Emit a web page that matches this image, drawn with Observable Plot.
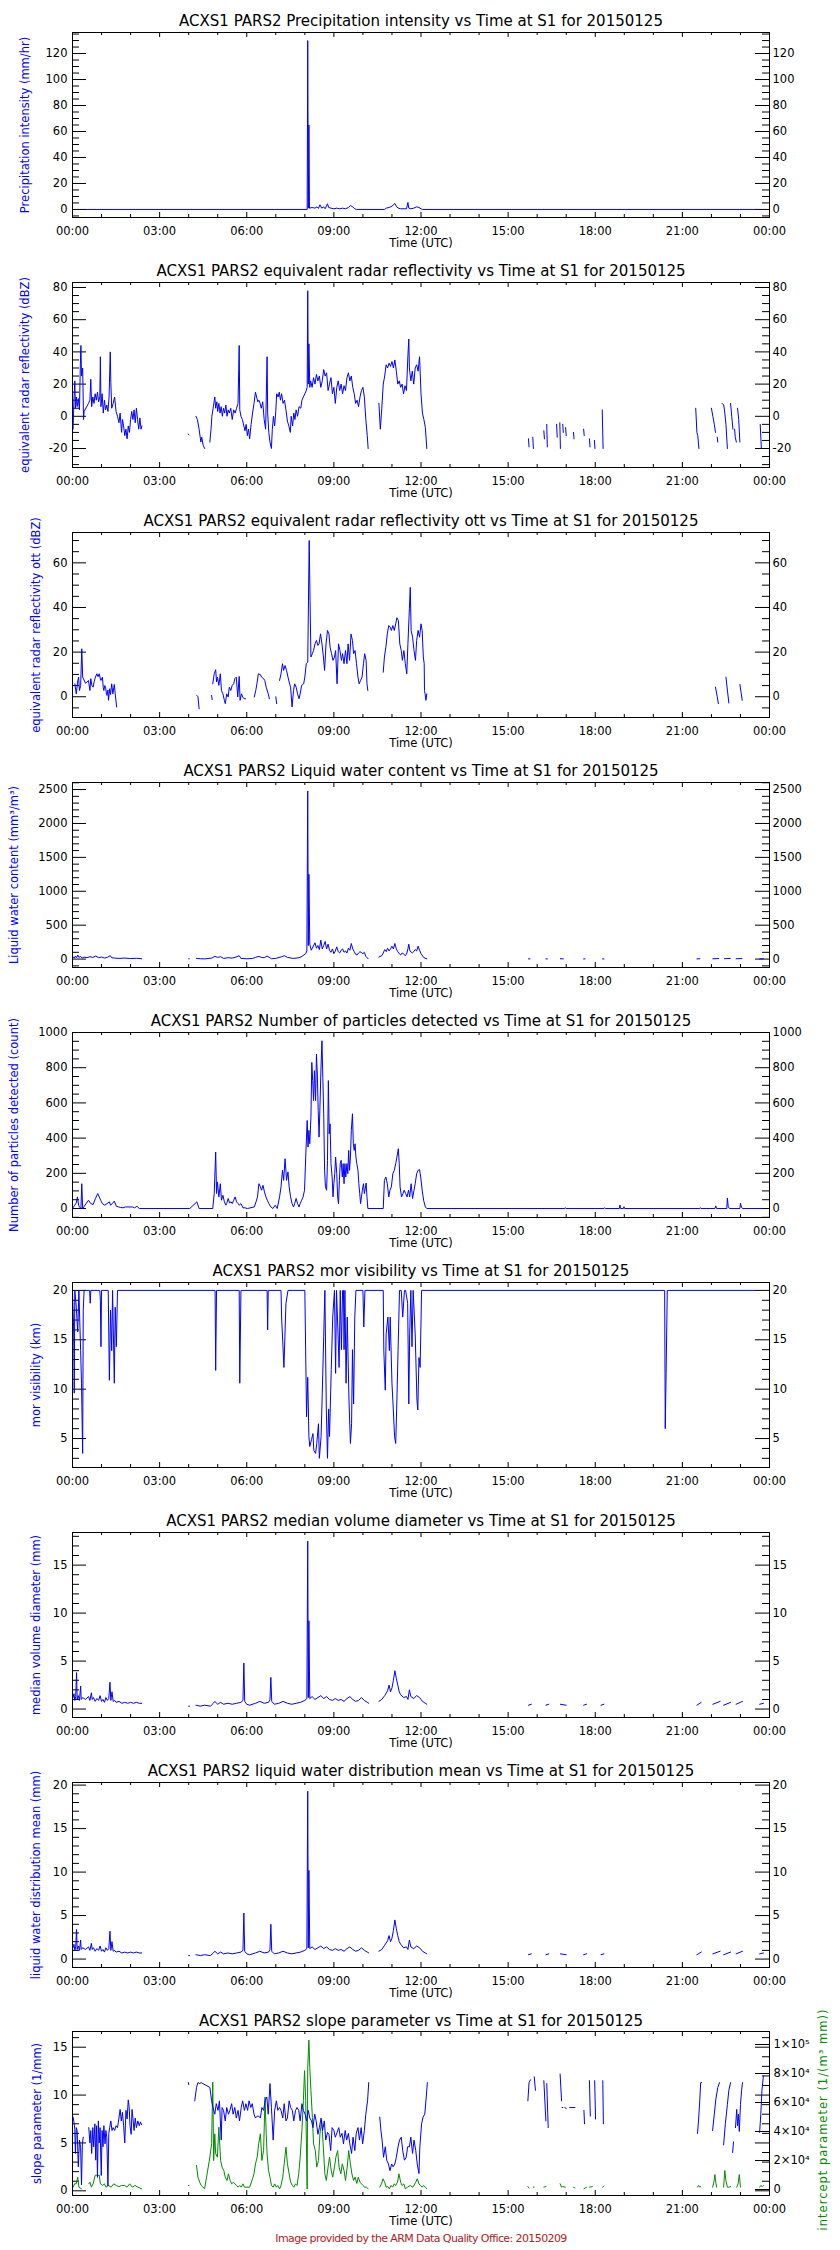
<!DOCTYPE html>
<html><head><meta charset="utf-8">
<script src="https://cdn.jsdelivr.net/npm/d3@7"></script>
<script src="https://cdn.jsdelivr.net/npm/@observablehq/plot@0.6"></script>
<style>
html,body{margin:0;padding:0;background:#fff;}
#charts{width:840px;}
#charts svg{display:block;}
</style></head><body><div id="charts"></div>
<script>
// ---------- tick labels ----------
const hourMajor = [0, 3, 6, 9, 12, 15, 18, 21, 24];
const hourMinor = [1, 2, 4, 5, 7, 8, 10, 11, 13, 14, 16, 17, 19, 20, 22, 23];
const footer = "Image provided by the ARM Data Quality Office: 20150209";
const titles = [
  "ACXS1 PARS2 Precipitation intensity vs Time at S1 for 20150125",
  "ACXS1 PARS2 equivalent radar reflectivity vs Time at S1 for 20150125",
  "ACXS1 PARS2 equivalent radar reflectivity ott vs Time at S1 for 20150125",
  "ACXS1 PARS2 Liquid water content vs Time at S1 for 20150125",
  "ACXS1 PARS2 Number of particles detected vs Time at S1 for 20150125",
  "ACXS1 PARS2 mor visibility vs Time at S1 for 20150125",
  "ACXS1 PARS2 median volume diameter vs Time at S1 for 20150125",
  "ACXS1 PARS2 liquid water distribution mean vs Time at S1 for 20150125",
  "ACXS1 PARS2 slope parameter vs Time at S1 for 20150125"
];
const ylabels = [
  "Precipitation intensity (mm/hr)",
  "equivalent radar reflectivity (dBZ)",
  "equivalent radar reflectivity ott (dBZ)",
  "Liquid water content (mm³/m³)",
  "Number of particles detected (count)",
  "mor visibility (km)",
  "median volume diameter (mm)",
  "liquid water distribution mean (mm)",
  "slope parameter (1/mm)"
];
const rightLabel9 = "intercept parameter (1/(m³ mm))";
const yMajor = [
  [0, 20, 40, 60, 80, 100, 120],
  [-20, 0, 20, 40, 60, 80],
  [0, 20, 40, 60],
  [0, 500, 1000, 1500, 2000, 2500],
  [0, 200, 400, 600, 800, 1000],
  [5, 10, 15, 20],
  [0, 5, 10, 15],
  [0, 5, 10, 15, 20],
  [0, 5, 10, 15]
];
const yDomains = [
  [-6.2, 136.2], [-31.8, 83.1], [-9.3, 73.6], [-124, 2604], [-51, 1000],
  [2.07, 20.8], [-0.88, 18.4], [-0.97, 20.3], [-0.49, 16.64]
];
const yMinorStep = [5, 5, 5, 100, 50, 1, 1, 1, 1];
const interceptDomain = [-4140, 108970];
const interceptMajor = [0, 20000, 40000, 60000, 80000, 100000];
const interceptLabels = ["0", "2×10⁴", "4×10⁴", "6×10⁴", "8×10⁴", "1×10⁵"];

// ---------- data: [hour, value], null = gap ----------
const precip = [[0.48,0],[8.08,0],[8.1,130],[8.12,1],[8.14,65],[8.16,1],[8.25,1.5],[8.35,1],[8.42,2],[8.47,0.8],[8.52,3.6],[8.58,1],[8.65,2],[8.7,0.5],[8.78,4.4],[8.82,1.5],[8.9,1],[9.0,0.5],[9.1,1],[9.2,0.5],[9.3,1],[9.4,0.5],[9.5,1.5],[9.57,3],[9.65,2],[9.72,0.5],[9.78,0],[10.75,0],[10.8,1],[10.9,1.5],[11.0,2.5],[11.1,4.6],[11.16,2],[11.22,1],[11.3,0.5],[11.5,0.5],[11.55,5.4],[11.58,1],[11.65,0.5],[11.75,1],[11.85,2],[11.93,1.5],[12.0,0.5],[12.05,0],[23.58,0]];

const dbz = [[0.02,-8],[0.05,10],[0.08,22],[0.1,5],[0.13,12],[0.16,6],[0.2,11],[0.24,4],[0.27,32],[0.29,44],[0.31,25],[0.35,30],[0.38,-2],[0.4,3],[0.55,8],[0.6,10],[0.63,23],[0.66,6],[0.7,12],[0.74,8],[0.78,14],[0.82,10],[0.86,15],[0.9,9],[0.94,12],[0.96,37],[0.98,6],[1.02,14],[1.06,2],[1.1,10],[1.14,4],[1.18,7],[1.22,3],[1.26,12],[1.3,40],[1.32,21],[1.35,5],[1.4,8],[1.45,12],[1.5,3],[1.55,0],[1.6,-4],[1.64,2],[1.69,-10],[1.72,-2],[1.76,-6],[1.8,-12],[1.84,-8],[1.88,-14],[1.92,-6],[1.96,-10],[2.0,-2],[2.04,3],[2.08,-2],[2.12,4],[2.16,-4],[2.2,5],[2.24,-2],[2.28,-8],[2.32,-1],[2.36,-8],[2.39,-6],null,
[3.98,-11],[4.01,-11.5],null,
[4.25,0],[4.3,-2],[4.36,-8],[4.42,-16],[4.45,-13],[4.5,-18],[4.55,-20],null,
[4.73,-16],[4.77,-8],[4.8,0],[4.85,6],[4.9,12],[4.93,5],[4.97,9],[5.0,3],[5.04,8],[5.08,2],[5.12,6],[5.16,0],[5.2,5],[5.24,2],[5.28,7],[5.32,0],[5.36,4],[5.4,2],[5.45,5],[5.5,-2],[5.55,4],[5.6,2],[5.65,5],[5.7,8],[5.74,44],[5.76,4],[5.8,0],[5.85,-2],[5.9,-6],[5.94,-9],[5.98,-5],[6.02,-12],[6.06,-8],[6.1,-14],[6.15,-5],[6.2,2],[6.25,8],[6.3,15],[6.34,12],[6.38,9],[6.42,10],[6.46,8],[6.5,5],[6.55,9],[6.6,-2],[6.65,-8],[6.7,37],[6.72,2],[6.76,-10],[6.8,-16],[6.85,-20],[6.88,-8],[6.92,0],[6.96,-6],[7.0,3],[7.03,14],[7.08,12],[7.12,15],[7.16,10],[7.2,14],[7.25,8],[7.3,10],[7.35,4],[7.4,-3],[7.45,-6],[7.5,-10],[7.53,0],[7.58,-6],[7.62,2],[7.66,-2],[7.7,4],[7.75,0],[7.8,6],[7.86,5],[7.9,10],[7.95,12],[8.0,14],[8.05,16],[8.08,18],[8.1,78],[8.12,20],[8.14,45],[8.17,18],[8.2,22],[8.25,18],[8.3,24],[8.35,20],[8.4,26],[8.45,22],[8.5,25],[8.55,18],[8.6,22],[8.65,29],[8.7,25],[8.75,27],[8.8,16],[8.85,20],[8.9,24],[8.95,14],[9.0,18],[9.05,8],[9.1,18],[9.15,22],[9.2,16],[9.25,20],[9.3,14],[9.35,19],[9.4,16],[9.45,24],[9.5,27],[9.55,22],[9.6,25],[9.65,18],[9.7,14],[9.75,8],[9.8,10],[9.85,6],[9.9,12],[9.95,16],[10.0,18],[10.05,12],[10.1,-2],[10.15,-12],[10.18,-20],null,
[10.55,8],[10.6,-8],[10.65,5],[10.7,20],[10.75,25],[10.8,32],[10.85,30],[10.9,33],[10.95,31],[11.0,34],[11.05,30],[11.1,35],[11.15,28],[11.2,20],[11.25,22],[11.3,18],[11.35,20],[11.4,14],[11.45,19],[11.5,16],[11.55,38],[11.58,48],[11.6,30],[11.65,22],[11.7,28],[11.75,20],[11.8,30],[11.85,32],[11.9,28],[11.95,37],[12.0,14],[12.05,2],[12.1,-2],[12.15,-7],[12.2,-20],null,
[15.7,-14],[15.72,-19],null,[15.85,-13],[15.87,-20],null,[16.23,-9],[16.25,-14],null,[16.33,-5],[16.35,-19],null,[16.67,-5],[16.69,-13],null,[16.78,-4],[16.8,-20],null,[16.88,-5],[16.9,-10],null,[16.98,-7],[17.0,-12],null,[17.25,-10],[17.27,-14],null,[17.6,-8],[17.62,-12],null,[17.8,-14],[17.82,-19],null,[17.97,-15],[17.99,-20],null,[18.24,4],[18.27,-20],null,
[21.46,5],[21.5,-10],[21.53,-12],[21.57,-20],null,[22.0,5],[22.05,0],[22.1,-5],[22.14,-10],null,[22.2,-13],[22.22,-16],null,[22.37,8],[22.42,7],[22.45,4],[22.5,-5],[22.55,-20],null,[22.66,8],[22.7,0],[22.74,-8],null,[22.8,-8],[22.82,-13],[22.86,-16],null,[22.9,5],[22.94,-2],[22.98,-16],null,[23.68,-5],[23.72,-20]];

const dbzOtt = [[0.08,5.8],[0.13,1.3],[0.18,7],[0.21,8.8],[0.24,2.8],[0.28,5],[0.32,21.5],[0.35,8.8],[0.45,6],[0.55,7.3],[0.6,2.8],[0.63,8.1],[0.67,5],[0.71,4.3],[0.75,7],[0.79,8.8],[0.84,10.3],[0.88,9],[0.92,10.3],[0.96,8],[0.98,7.3],[1.03,8.8],[1.06,4],[1.08,2.8],[1.11,5],[1.14,4.3],[1.17,1],[1.19,0.6],[1.22,3],[1.24,-1.6],[1.28,3.6],[1.31,1],[1.35,5.8],[1.39,1.3],[1.42,4],[1.44,5.5],[1.47,1.3],[1.52,-4.6],null,
[4.28,0.6],[4.32,0],[4.36,-5.4],null,[4.79,0.6],[4.81,-1.3],null,
[4.83,5.8],[4.88,10.3],[4.93,12.1],[4.96,6.6],[4.99,8.8],[5.04,5.1],[5.09,10.3],[5.13,2.8],[5.18,1.3],[5.23,-1.6],[5.26,-3.1],[5.31,1.3],[5.36,-0.1],[5.4,4.3],[5.45,2.8],[5.5,5.1],[5.55,5.8],[5.59,8.1],[5.64,8.8],[5.69,-0.1],[5.74,9.1],[5.77,-1.6],[5.82,1.3],[5.86,-0.1],[5.91,-0.9],[5.96,-0.9],null,
[6.26,-0.1],[6.31,2.8],[6.35,5.8],[6.4,10.3],[6.47,9.9],[6.51,8.8],[6.58,8.1],[6.62,7.3],[6.67,4.3],[6.74,1.3],[6.78,-0.9],null,
[7.0,0],[7.03,-3.1],null,
[7.13,7.3],[7.18,10.3],[7.23,14.8],[7.27,11.8],[7.32,14],[7.37,11.8],[7.42,8.8],[7.46,6.6],[7.51,4.3],[7.56,-4.6],[7.61,2.8],[7.65,5.8],[7.7,4.3],[7.75,1.3],[7.8,-0.9],[7.84,1.3],[7.89,5.1],[7.96,5.8],[8.0,8.8],[8.05,14.8],[8.1,15.5],[8.15,70],[8.18,43],[8.21,17.8],[8.26,19.3],[8.3,20.7],[8.35,23.7],[8.4,25.2],[8.45,23],[8.49,23.7],[8.54,28.2],[8.59,23.7],[8.64,17.8],[8.68,11.8],[8.73,23.7],[8.78,29.7],[8.83,28.2],[8.87,22.2],[8.92,19.3],[8.97,16.3],[9.02,17.8],[9.06,20.7],[9.11,5.8],[9.16,23.7],[9.21,20.7],[9.26,16.3],[9.3,19.3],[9.35,14.8],[9.4,20.7],[9.45,14.8],[9.49,23.7],[9.54,16.3],[9.59,28.1],[9.64,25.2],[9.68,19.3],[9.73,20.7],[9.78,14.8],[9.83,8.8],[9.87,5.8],[9.92,7.3],[9.97,8.8],[10.02,14.8],[10.06,19.3],[10.11,16.3],[10.14,5.8],[10.17,2.8],null,
[10.7,11],[10.74,17.8],[10.79,22.2],[10.84,28.2],[10.89,31.9],[10.94,31.2],[10.98,29.7],[11.03,31.9],[11.08,29.7],[11.13,32.7],[11.17,35.4],[11.22,34.2],[11.27,23.7],[11.32,20.7],[11.36,16.3],[11.41,20.7],[11.46,14.8],[11.51,10.3],[11.55,23.7],[11.6,39.4],[11.63,49],[11.66,29.7],[11.71,26.7],[11.76,20.7],[11.81,16.3],[11.85,25.2],[11.9,29.7],[11.95,26.7],[12.0,32.7],[12.04,29.7],[12.08,17.8],[12.11,14.8],[12.12,2.8],[12.14,1.3],[12.17,-1.6],[12.2,1.3],null,
[22.14,4.3],[22.2,0],[22.24,-3.1],null,[22.5,8.8],[22.55,3],[22.6,-2.8],null,[22.98,5.5],[23.02,2],[23.06,-1.6]];

const lwc = [[0.02,30],[0.06,15],[0.1,45],[0.14,20],[0.18,60],[0.22,25],[0.28,40],[0.33,15],[0.4,30],[0.5,20],[0.6,35],[0.7,25],[0.8,45],[0.9,20],[1.0,30],[1.1,15],[1.2,25],[1.3,50],[1.35,20],[1.45,15],[1.6,10],[1.8,15],[2.0,8],[2.2,12],[2.38,5],null,
[4.0,5],[4.02,5],null,
[4.27,10],[4.4,5],[4.55,3],[4.8,15],[4.9,40],[5.0,25],[5.1,35],[5.2,10],[5.35,20],[5.5,15],[5.6,25],[5.74,50],[5.8,10],[6.0,5],[6.2,10],[6.3,25],[6.42,40],[6.5,25],[6.6,20],[6.7,45],[6.85,5],[7.0,10],[7.2,35],[7.3,50],[7.4,25],[7.6,10],[7.8,20],[7.9,40],[8.03,80],[8.07,120],[8.1,2480],[8.12,200],[8.14,1250],[8.17,220],[8.22,130],[8.28,180],[8.35,240],[8.4,160],[8.45,200],[8.5,140],[8.55,280],[8.6,150],[8.65,200],[8.7,260],[8.75,150],[8.8,220],[8.85,130],[8.9,100],[8.95,150],[9.0,80],[9.05,120],[9.1,180],[9.15,110],[9.2,90],[9.25,130],[9.3,150],[9.35,100],[9.4,120],[9.45,90],[9.5,160],[9.55,130],[9.6,230],[9.65,150],[9.7,110],[9.75,70],[9.8,60],[9.85,90],[9.9,110],[10.0,80],[10.05,100],[10.1,40],[10.18,5],null,
[10.55,30],[10.65,50],[10.7,90],[10.75,140],[10.8,110],[10.85,160],[10.9,120],[10.95,150],[11.0,190],[11.05,150],[11.1,230],[11.15,150],[11.2,110],[11.25,80],[11.3,60],[11.35,90],[11.4,80],[11.45,50],[11.5,70],[11.55,150],[11.58,220],[11.62,120],[11.7,90],[11.75,110],[11.8,140],[11.85,120],[11.9,190],[11.95,130],[12.0,80],[12.1,20],[12.2,5],null,
[15.7,2],[15.75,4],null,[16.3,3],[16.35,2],null,[16.8,5],[16.9,3],null,[17.6,2],[17.65,3],null,[18.25,4],[18.3,2],null,
[21.5,3],[21.6,5],null,[22.05,4],[22.25,8],null,[22.45,6],[22.65,10],null,[22.85,5],[23.05,8],null,[23.66,3],[23.79,5]];

const particles = [[0,0],[0.08,19],[0.13,32],[0.17,66],[0.21,19],[0.24,9],[0.29,0],[0.32,141],[0.35,0],[0.55,47],[0.63,28],[0.71,23],[0.79,57],[0.87,85],[0.92,66],[0.97,47],[1.03,28],[1.11,19],[1.19,28],[1.27,38],[1.31,19],[1.37,28],[1.44,42],[1.51,13],[1.59,9],[1.66,6],[1.74,4],[1.82,9],[2.06,9],[2.14,4],[2.22,13],[2.3,0],[4.04,0],[4.28,38],[4.36,0],[4.83,0],[4.88,85],[4.93,321],[4.96,85],[4.99,151],[5.04,66],[5.09,141],[5.13,47],[5.18,75],[5.23,38],[5.28,19],[5.31,28],[5.36,57],[5.41,32],[5.46,38],[5.5,28],[5.55,47],[5.6,66],[5.65,38],[5.7,28],[5.74,19],[5.8,28],[5.87,4],[5.94,4],[6.02,0],[6.26,9],[6.32,38],[6.37,66],[6.42,141],[6.47,123],[6.51,104],[6.56,132],[6.61,94],[6.66,66],[6.71,47],[6.76,28],[6.83,9],[6.9,0],[6.98,19],[7.05,0],[7.13,66],[7.18,123],[7.23,217],[7.27,160],[7.32,283],[7.37,160],[7.42,208],[7.46,123],[7.51,66],[7.56,28],[7.61,9],[7.65,28],[7.7,57],[7.75,28],[7.8,9],[7.84,28],[7.89,47],[7.94,66],[7.99,104],[8.03,292],[8.08,500],[8.11,349],[8.14,444],[8.17,368],[8.21,519],[8.24,830],[8.27,727],[8.3,613],[8.33,783],[8.37,613],[8.4,877],[8.43,764],[8.46,557],[8.49,406],[8.52,575],[8.56,821],[8.59,953],[8.62,745],[8.65,538],[8.68,217],[8.71,123],[8.75,104],[8.78,274],[8.81,727],[8.84,425],[8.87,481],[8.9,255],[8.94,179],[8.97,66],[9.0,141],[9.03,198],[9.06,292],[9.1,198],[9.13,66],[9.16,28],[9.19,160],[9.22,255],[9.25,274],[9.29,179],[9.32,255],[9.35,141],[9.38,255],[9.41,179],[9.45,255],[9.48,198],[9.51,330],[9.54,217],[9.57,292],[9.6,443],[9.64,538],[9.67,368],[9.7,330],[9.73,368],[9.76,292],[9.79,255],[9.83,217],[9.86,141],[9.89,85],[9.92,28],[9.95,66],[9.98,104],[10.02,141],[10.05,85],[10.08,113],[10.11,145],[10.14,66],[10.17,0],[10.7,0],[10.74,160],[10.79,179],[10.84,141],[10.89,66],[10.93,104],[10.98,123],[11.03,198],[11.08,217],[11.13,255],[11.17,292],[11.22,340],[11.25,255],[11.28,123],[11.33,66],[11.38,85],[11.42,104],[11.47,85],[11.52,66],[11.57,104],[11.61,66],[11.66,141],[11.71,57],[11.76,104],[11.8,141],[11.85,198],[11.9,217],[11.95,221],[11.99,179],[12.04,104],[12.09,47],[12.15,9],[12.2,0],[16.95,0],[16.97,5],[16.99,0],[18.3,0],[18.32,5],[18.34,0],[18.83,0],[18.85,20],[18.87,0],[18.97,0],[18.99,10],[19.01,0],[21.6,0],[21.62,5],[21.64,0],[22.12,0],[22.15,15],[22.18,0],[22.53,0],[22.55,60],[22.58,10],[22.62,0],[22.98,0],[23.0,30],[23.04,5],[23.08,0],[23.77,0]];

const visibility = [[0,20],[0.04,16],[0.06,9.6],[0.08,20],[0.13,18.3],[0.18,15.8],[0.22,20],[0.28,13.9],[0.31,10.6],[0.35,3.5],[0.37,18],[0.4,20],[0.59,20],[0.61,18.7],[0.63,20],[0.94,20],[0.96,19],[0.98,14.3],[1.0,20],[1.23,20],[1.27,10.9],[1.31,18],[1.35,13.9],[1.38,20],[1.44,10.6],[1.47,18.3],[1.51,14.3],[1.55,20],[4.91,20],[4.93,11.9],[4.96,20],[5.74,20],[5.76,10.6],[5.8,20],[6.7,20],[6.72,16],[6.74,20],[7.18,20],[7.2,17.3],[7.28,12.2],[7.35,18.7],[7.42,20],[8.0,20],[8.06,7.2],[8.1,11.2],[8.14,5.2],[8.17,4.2],[8.23,4.9],[8.28,5.5],[8.31,3.8],[8.37,3.5],[8.41,4.5],[8.47,6.5],[8.5,3],[8.56,5.2],[8.6,9.6],[8.65,15.3],[8.69,20],[8.74,8],[8.78,3],[8.82,8],[8.85,5.2],[8.91,12],[8.96,17.3],[9.02,20],[9.06,11.6],[9.09,20],[9.15,15],[9.18,12.2],[9.22,20],[9.26,14],[9.3,20],[9.33,20],[9.35,14],[9.38,20],[9.42,10.6],[9.46,17.3],[9.52,8.9],[9.57,4.5],[9.61,6.5],[9.64,14],[9.68,8.5],[9.72,17.3],[9.76,20],[10.0,20],[10.03,16.3],[10.07,20],[10.7,20],[10.72,13.9],[10.77,9.9],[10.8,15.6],[10.86,17.3],[10.91,13.9],[10.94,17.3],[11.0,10.6],[11.03,8.9],[11.09,5.2],[11.13,4.5],[11.17,8.9],[11.21,13.9],[11.26,20],[11.32,20],[11.37,17.3],[11.43,20],[11.47,20],[11.54,18.7],[11.58,8.5],[11.61,15.6],[11.65,20],[11.69,14.3],[11.73,20],[11.8,15.6],[11.86,8.9],[11.89,7.9],[11.93,13.2],[11.97,12.2],[12.02,20],[20.39,20],[20.41,6],[20.44,11.6],[20.48,20],[23.5,20]];

const mvd = [[0.02,1.2],[0.05,1.6],[0.08,0.9],[0.11,1.3],[0.14,3.8],[0.16,1.0],[0.2,1.4],[0.24,0.9],[0.28,2.4],[0.3,1.0],[0.35,1.2],[0.45,1.0],[0.55,1.3],[0.6,0.9],[0.65,1.7],[0.68,1.0],[0.72,1.2],[0.78,0.8],[0.84,1.1],[0.9,0.9],[0.95,1.4],[1.0,0.8],[1.05,1.0],[1.1,0.7],[1.15,1.2],[1.2,0.9],[1.25,1.1],[1.29,2.8],[1.32,0.9],[1.36,1.8],[1.4,0.8],[1.45,0.9],[1.5,0.7],[1.6,0.8],[1.7,0.6],[1.8,0.7],[1.9,0.6],[2.0,0.7],[2.1,0.6],[2.2,0.7],[2.3,0.6],[2.38,0.6],null,
[4.0,0.3],[4.03,0.3],null,
[4.25,0.4],[4.4,0.3],[4.55,0.4],[4.75,0.3],[4.85,0.6],[4.9,0.8],[5.0,0.5],[5.1,0.7],[5.2,0.5],[5.35,0.6],[5.5,0.5],[5.65,0.6],[5.8,0.7],[5.87,0.9],[5.9,4.8],[5.93,0.8],[6.0,0.5],[6.1,0.4],[6.3,0.6],[6.45,0.8],[6.6,0.6],[6.75,0.7],[6.8,1.0],[6.83,3.3],[6.86,0.8],[6.95,0.5],[7.1,0.6],[7.25,0.8],[7.4,0.6],[7.55,0.5],[7.7,0.6],[7.85,0.7],[8.0,0.9],[8.07,1.1],[8.1,17.5],[8.12,1.2],[8.14,9.2],[8.17,1.1],[8.25,1.3],[8.35,1.0],[8.45,1.2],[8.55,1.4],[8.65,1.1],[8.75,1.3],[8.85,1.0],[8.95,0.9],[9.05,1.1],[9.15,0.9],[9.25,1.0],[9.35,0.8],[9.45,1.1],[9.55,1.3],[9.65,1.0],[9.75,0.8],[9.85,0.9],[9.95,1.2],[10.05,0.9],[10.15,0.7],[10.2,0.6],null,
[10.55,0.8],[10.65,1.0],[10.75,1.4],[10.85,1.9],[10.9,2.5],[10.95,1.8],[11.0,2.2],[11.05,3.0],[11.1,4.0],[11.15,3.2],[11.2,2.5],[11.25,1.8],[11.3,1.5],[11.4,1.2],[11.5,1.3],[11.55,1.0],[11.6,2.0],[11.65,1.3],[11.75,1.1],[11.85,1.4],[11.95,1.2],[12.05,0.8],[12.15,0.6],[12.2,0.5],null,
[15.7,0.4],[15.8,0.5],null,[16.3,0.4],[16.4,0.5],null,[16.8,0.5],[17.0,0.4],null,[17.6,0.4],[17.7,0.5],null,[18.2,0.4],[18.3,0.5],null,
[21.5,0.4],[21.65,0.7],null,[22.05,0.5],[22.3,0.8],null,[22.42,0.4],[22.66,0.7],null,[22.85,0.5],[23.07,0.8],null,[23.66,0.5],[23.79,0.6]];

const lwdMean = [[0.02,1.3],[0.05,1.7],[0.08,1.0],[0.11,1.4],[0.14,3.4],[0.16,1.1],[0.2,1.5],[0.24,1.0],[0.28,2.2],[0.3,1.1],[0.35,1.3],[0.45,1.1],[0.55,1.4],[0.6,1.0],[0.65,1.8],[0.68,1.1],[0.72,1.3],[0.78,0.9],[0.84,1.2],[0.9,1.0],[0.95,1.5],[1.0,0.9],[1.05,1.1],[1.1,0.8],[1.15,1.3],[1.2,1.0],[1.25,1.2],[1.29,3.2],[1.32,1.0],[1.36,2.0],[1.4,0.9],[1.45,1.0],[1.5,0.8],[1.6,0.9],[1.7,0.7],[1.8,0.8],[1.9,0.7],[2.0,0.8],[2.1,0.7],[2.2,0.8],[2.3,0.7],[2.38,0.7],null,
[4.0,0.4],[4.03,0.4],null,
[4.25,0.5],[4.4,0.4],[4.55,0.5],[4.75,0.4],[4.85,0.7],[4.9,0.9],[5.0,0.6],[5.1,0.8],[5.2,0.6],[5.35,0.7],[5.5,0.6],[5.65,0.7],[5.8,0.8],[5.87,1.0],[5.9,5.3],[5.93,0.9],[6.0,0.6],[6.1,0.5],[6.3,0.7],[6.45,0.9],[6.6,0.7],[6.75,0.8],[6.8,1.1],[6.83,4.0],[6.86,0.9],[6.95,0.6],[7.1,0.7],[7.25,0.9],[7.4,0.7],[7.55,0.6],[7.7,0.7],[7.85,0.8],[8.0,1.0],[8.07,1.2],[8.1,19.3],[8.12,1.3],[8.14,10.2],[8.17,1.2],[8.25,1.4],[8.35,1.1],[8.45,1.3],[8.55,1.5],[8.65,1.2],[8.75,1.4],[8.85,1.1],[8.95,1.0],[9.05,1.2],[9.15,1.0],[9.25,1.1],[9.35,0.9],[9.45,1.2],[9.55,1.4],[9.65,1.1],[9.75,0.9],[9.85,1.0],[9.95,1.3],[10.05,1.0],[10.15,0.8],[10.2,0.7],null,
[10.55,0.9],[10.65,1.1],[10.75,1.6],[10.85,2.1],[10.9,2.7],[10.95,2.0],[11.0,2.4],[11.05,3.3],[11.1,4.5],[11.15,3.5],[11.2,2.7],[11.25,2.0],[11.3,1.7],[11.4,1.3],[11.5,1.4],[11.55,1.1],[11.6,2.2],[11.65,1.4],[11.75,1.2],[11.85,1.5],[11.95,1.3],[12.05,0.9],[12.15,0.7],[12.2,0.6],null,
[15.7,0.5],[15.8,0.6],null,[16.3,0.5],[16.4,0.6],null,[16.8,0.6],[17.0,0.5],null,[17.6,0.5],[17.7,0.6],null,[18.2,0.5],[18.3,0.6],null,
[21.5,0.5],[21.65,0.8],null,[22.05,0.6],[22.3,0.9],null,[22.42,0.5],[22.66,0.8],null,[22.85,0.6],[23.07,0.9],null,[23.66,0.6],[23.79,0.7]];

const slope = [[0.02,7.7],[0.05,7.2],[0.08,6.4],[0.1,3.9],[0.13,6.6],[0.16,6.3],[0.2,2.5],[0.24,5.3],[0.28,4.5],[0.31,0.6],[0.34,4.9],[0.37,5.6],null,
[0.56,6.6],[0.6,5],[0.63,6.3],[0.66,3.9],[0.7,6.6],[0.73,4.6],[0.77,7],[0.8,3.2],[0.83,6.8],[0.86,1.4],[0.89,7.3],[0.92,5],[0.95,6.6],[0.99,1.6],[1.02,6.3],[1.05,4.6],[1.08,6.8],[1.12,4.9],[1.15,6.3],[1.18,5.6],[1.22,0.5],[1.25,6],[1.28,6.6],[1.32,7.3],[1.36,6.3],[1.4,6.6],[1.45,6.3],[1.5,6.8],[1.55,6.6],[1.6,7.6],[1.64,8.5],[1.68,7.3],[1.72,8.2],[1.76,6.8],[1.8,5],[1.84,8.4],[1.88,7.5],[1.92,9.5],[1.95,8.8],[1.98,6.8],[2.02,5.9],[2.05,8.5],[2.08,7.6],[2.12,6.3],[2.16,7.6],[2.2,6.6],[2.25,7.3],[2.3,6.8],[2.34,7.2],[2.38,6.9],null,
[3.99,11.3],[4.0,11.1],null,
[4.21,9.4],[4.27,10.8],[4.32,11.3],[4.38,11.2],[4.43,11.3],[4.49,11.2],[4.73,10.8],[4.79,9.4],[4.84,8.7],[4.9,8],[4.95,9.1],[5.01,8.4],[5.06,9.4],[5.12,5.3],[5.15,8.7],[5.2,8.4],[5.26,7.3],[5.31,8.7],[5.37,8],[5.42,8.4],[5.48,9.1],[5.53,8],[5.59,8.7],[5.64,7.6],[5.7,8.4],[5.75,7.3],[5.81,8.7],[5.86,9.4],[5.92,8.4],[5.97,9.1],[6.03,8.4],[6.08,9.4],[6.14,8.7],[6.19,9.1],[6.25,8],[6.3,7.6],[6.36,7.8],[6.41,7.8],[6.47,7.6],[6.52,8.7],[6.58,8.4],[6.63,9.4],[6.69,9.8],[6.74,8],[6.8,11.2],[6.85,8.7],[6.91,5.3],[6.96,8.4],[7.02,9.4],[7.07,8.4],[7.13,8.7],[7.18,8.4],[7.24,7.6],[7.29,9.1],[7.35,7.3],[7.4,7.6],[7.46,9.4],[7.51,8.7],[7.57,8.4],[7.62,7.3],[7.68,8.4],[7.73,8.7],[7.79,8.4],[7.84,7.3],[7.9,9.1],[7.95,8.4],[8.01,8],[8.06,7.3],[8.12,8.4],[8.17,7.6],[8.23,7.3],[8.28,6.6],[8.34,8],[8.39,7.3],[8.45,5.9],[8.5,6.6],[8.56,7.6],[8.61,6.3],[8.67,7.3],[8.72,5.3],[8.78,6.1],[8.83,5.9],[8.89,4.2],[8.94,6.6],[9.0,6.3],[9.05,5.6],[9.11,6.1],[9.17,6.6],[9.22,5.6],[9.28,6],[9.33,4.9],[9.39,6.3],[9.44,5.3],[9.5,6],[9.55,4.9],[9.61,3.9],[9.66,5.6],[9.72,4.2],[9.77,6],[9.83,6.6],[9.88,5.3],[9.94,6.6],[9.99,4.9],[10.05,6.3],[10.1,8],[10.16,9.4],[10.2,11.3],null,
[10.58,7.7],[10.62,6.3],[10.66,5.3],[10.71,3.5],[10.77,4.6],[10.82,3.2],[10.88,2.8],[10.93,2.1],[10.99,2.8],[11.04,2.5],[11.1,2.8],[11.15,3.5],[11.21,4.6],[11.26,5.3],[11.32,5.6],[11.37,4.2],[11.43,3.2],[11.49,3.5],[11.54,4.6],[11.6,4.6],[11.65,5.6],[11.71,3.9],[11.76,5.3],[11.82,4.2],[11.87,2.8],[11.93,1.8],[11.96,4.6],[12.02,7],[12.07,7.7],[12.13,8],[12.18,9.8],[12.22,11.3],null,
[15.68,9.4],[15.72,11.3],[15.77,11.6],null,[15.9,11.9],[15.94,10.5],null,[16.23,11.5],[16.3,7.3],null,[16.33,11.2],[16.38,6.6],null,[16.79,12.2],[16.84,9.4],null,[16.86,8.7],[16.88,8.7],null,[16.95,8.7],[17.0,8.6],null,[17.12,8.7],[17.3,8.7],null,[17.61,8.4],[17.63,7],null,[17.8,11.5],[17.83,7.8],null,[17.98,11.5],[18.01,7.5],null,[18.26,11.5],[18.28,7],null,
[21.52,6.0],[21.56,7.5],[21.6,9.5],[21.63,11.3],[21.66,11.3],null,[22.04,6.3],[22.1,8],[22.15,9.5],[22.22,10.8],[22.28,11.3],null,[22.42,4.8],[22.48,7],[22.55,9],[22.6,10.5],[22.66,11.3],null,[22.73,4.0],[22.76,5.1],null,[22.83,6.6],[22.87,8.5],[22.9,6.8],[22.93,8],[22.96,6.2],[23.0,9],[23.04,10.5],[23.07,11.3],null,[23.66,6.1],[23.7,8],[23.74,10.5],[23.79,12]];

const intercept = [[0.02,1600],[0.07,3900],[0.13,4000],[0.18,8500],[0.22,1600],[0.31,500],null,
[0.56,3900],[0.6,5000],[0.65,1600],[0.71,3900],[0.78,9700],[0.81,10000],[0.87,9500],[0.92,10000],[0.96,3900],[1.04,2800],[1.1,3900],[1.15,1600],[1.24,2800],[1.33,1600],[1.42,3900],[1.51,2800],[1.6,2000],[1.69,2800],[1.79,2800],[1.88,1600],[1.97,3900],[2.06,1600],[2.15,2800],[2.25,1600],[2.38,500],null,
[3.99,2800],[4.01,2800],null,
[4.27,16600],[4.32,8500],[4.38,5000],[4.43,2800],[4.49,1600],[4.55,500],[4.73,22300],[4.79,31500],[4.83,74000],[4.86,20000],[4.9,38400],[4.93,24600],[4.99,22300],[5.04,43000],[5.1,20000],[5.15,15400],[5.21,13100],[5.26,8500],[5.32,6200],[5.37,10800],[5.43,6200],[5.48,3900],[5.54,5000],[5.59,3900],[5.65,2800],[5.7,1600],[5.76,2800],[5.81,1600],[5.87,3900],[5.92,1600],[6.1,1600],[6.2,7400],[6.25,10800],[6.3,17700],[6.36,22300],[6.41,31500],[6.47,38400],[6.52,20000],[6.58,26900],[6.63,63700],[6.67,38400],[6.7,24600],[6.75,13100],[6.8,8500],[6.85,2800],[6.91,1600],[6.96,3900],[7.02,1600],[7.07,2800],[7.13,400],[7.18,2800],[7.24,8500],[7.29,17700],[7.35,29200],[7.4,17700],[7.46,10800],[7.51,5000],[7.57,2800],[7.62,1600],[7.68,3900],[7.73,2800],[7.79,10800],[7.84,22300],[7.9,40700],[7.95,61400],[7.99,82000],[8.03,61400],[8.08,400],[8.1,84400],[8.14,103000],[8.17,84400],[8.21,68300],[8.26,49700],[8.3,31500],[8.36,26900],[8.41,15400],[8.47,20000],[8.52,38400],[8.58,47600],[8.63,31500],[8.69,10800],[8.74,6200],[8.8,15400],[8.85,22300],[8.91,13100],[8.96,8500],[9.02,15400],[9.07,22300],[9.13,26900],[9.18,15400],[9.24,10800],[9.29,17700],[9.35,13100],[9.4,6200],[9.46,15400],[9.51,26900],[9.57,17700],[9.62,10800],[9.68,6200],[9.73,8500],[9.79,4200],[9.84,8500],[9.9,5000],[9.95,3900],[10.0,2800],[10.06,1600],[10.12,1600],[10.18,500],null,
[10.58,1600],[10.64,3900],[10.69,7400],[10.75,5000],[10.8,1600],[10.86,2000],[10.91,500],[10.97,2800],[11.02,1600],[11.08,3900],[11.13,2800],[11.19,5000],[11.24,10800],[11.3,5000],[11.35,2800],[11.41,3900],[11.46,500],[11.54,1600],[11.63,2800],[11.72,1600],[11.82,5000],[11.87,7400],[11.93,3900],[11.98,2800],[12.04,1600],[12.09,2800],[12.15,1600],[12.2,500],null,
[15.68,2000],[15.72,1000],null,[15.87,1600],[15.9,1600],null,[16.23,1600],[16.3,2000],null,[16.79,3900],[16.84,1600],null,[16.88,2000],[16.97,1600],null,[17.25,1600],[17.3,1000],null,[17.61,500],[17.7,1600],null,[17.8,1600],[17.9,2000],null,[18.26,1600],[18.3,2500],null,
[21.52,1600],[21.56,2800],[21.6,1600],[21.63,2000],null,[22.04,1600],[22.08,4500],[22.12,10300],[22.15,5000],[22.18,1600],null,[22.42,1600],[22.46,13100],[22.5,6000],[22.55,1600],[22.6,1600],[22.66,2000],null,[22.87,1600],[22.92,4000],[22.96,10300],[23.0,1600],null,[23.66,1600],[23.7,2800],[23.75,2000],[23.79,2800]];

const series = [precip, dbz, dbzOtt, lwc, particles, visibility, mvd, lwdMean, slope];

// ---------- drawing ----------
const FONT = "DejaVu Sans";
const labelCenterX = [24.5, 24.5, 36, 14, 14, 36, 36, 36, 36.5];
const rows = arr => arr.map(d => d ? {t: d[0], v: d[1]} : {t: NaN, v: NaN});
const fmtHour = h => String(h % 24).padStart(2, "0") + ":00";
const fmtNum = d => String(d);
const rangeStep = (lo, hi, s) => { const out = []; for (let v = Math.ceil(lo / s) * s; v <= hi + 1e-9; v += s) out.push(+v.toFixed(6)); return out; };

function panel(i) {
  const last = i === 8;
  const W = 840, H = 250, ML = 72, MR = 71;
  const MT = last ? 31 : 32, MB = last ? 55 : 33;
  const pw = W - ML - MR, ph = H - MT - MB;
  const dom = yDomains[i];
  const major = yMajor[i];
  const minor = rangeStep(dom[0], dom[1], yMinorStep[i]).filter(v => !major.includes(v));
  const marks = [
    Plot.tickY(minor, {y: d => d, insetRight: pw - 7, stroke: "black"}),
    Plot.tickY(minor, {y: d => d, insetLeft: pw - 7, stroke: "black"}),
    Plot.tickY(major, {y: d => d, insetRight: pw - 14, stroke: "black"}),
    Plot.tickY(major, {y: d => d, insetLeft: pw - 14, stroke: "black"}),
    Plot.tickX(hourMinor, {x: d => d, insetTop: ph - 3, stroke: "black"}),
    Plot.tickX(hourMinor, {x: d => d, insetBottom: ph - 3, stroke: "black"}),
    Plot.tickX(hourMajor, {x: d => d, insetTop: ph - 5, stroke: "black"}),
    Plot.tickX(hourMajor, {x: d => d, insetBottom: ph - 5, stroke: "black"}),
    Plot.axisY(major, {anchor: "left", tickSize: 0, tickPadding: 5, label: null, fontSize: 11.5, tickFormat: fmtNum}),
    Plot.axisX(hourMajor, {anchor: "bottom", tickSize: 0, tickPadding: 9, tickFormat: fmtHour, label: null, fontSize: 11.5}),
    Plot.text([titles[i]], {frameAnchor: "top", dy: 21 - MT, text: d => d, fontSize: 15, lineAnchor: "middle", textAnchor: "middle"}),
    Plot.text([ylabels[i]], {frameAnchor: "left", dx: labelCenterX[i] - ML, rotate: -90, text: d => d, fill: "blue", fontSize: 11.5, lineAnchor: "middle", textAnchor: "middle"}),
    Plot.text(["Time (UTC)"], {frameAnchor: "bottom", dy: 26, text: d => d, fontSize: 11.5, lineAnchor: "middle", textAnchor: "middle"})
  ];
  if (last) {
    const toLeft = d3.scaleLinear().domain(interceptDomain).range(dom);
    const iRows = rows(intercept).map(d => ({t: d.t, v: Number.isFinite(d.v) ? toLeft(d.v) : NaN}));
    const iTicks = interceptMajor.map(v => toLeft(v));
    marks.push(
      Plot.tickY(iTicks, {y: d => d, insetLeft: pw - 14, stroke: "black"}),
      Plot.axisY(iTicks, {anchor: "right", tickSize: 0, tickPadding: 4, label: null, fontSize: 11.5,
        tickFormat: (d, k) => interceptLabels[k]}),
      Plot.line(iRows, {x: "t", y: "v", stroke: "#008c00", strokeWidth: 1}),
      Plot.text([rightLabel9], {frameAnchor: "right", dx: 822.5 - (W - MR), dy: 6, rotate: -90, text: d => d, fill: "#008c00", fontSize: 11.5, lineAnchor: "middle", textAnchor: "middle"}),
      Plot.text([footer], {frameAnchor: "bottom", dy: 43, text: d => d, fill: "#b22222", fontSize: 11, lineAnchor: "middle", textAnchor: "middle"})
    );
  } else {
    marks.push(Plot.axisY(major, {anchor: "right", tickSize: 0, tickPadding: 3, label: null, fontSize: 11.5, tickFormat: fmtNum}));
  }
  marks.push(Plot.line(rows(series[i]), {x: "t", y: "v", stroke: "blue", strokeWidth: 1}));
  marks.push(Plot.frame({stroke: "black"}));
  const svg = Plot.plot({
    width: W, height: H, marginLeft: ML, marginRight: MR, marginTop: MT, marginBottom: MB,
    x: {domain: [0, 24]}, y: {domain: dom},
    style: {fontFamily: FONT, fontSize: "11.5px", background: "white", color: "black"},
    marks
  });
  if (last) {
    d3.select(svg).selectAll("text").filter(function () { return this.textContent === rightLabel9; }).attr("letter-spacing", "1px");
    d3.select(svg).selectAll("text").filter(function () { return this.textContent === footer; }).attr("letter-spacing", "-0.6px");
  }
  return svg;
}

const host = document.getElementById("charts");
for (let i = 0; i < 9; i++) host.appendChild(panel(i));
</script>
</body></html>
